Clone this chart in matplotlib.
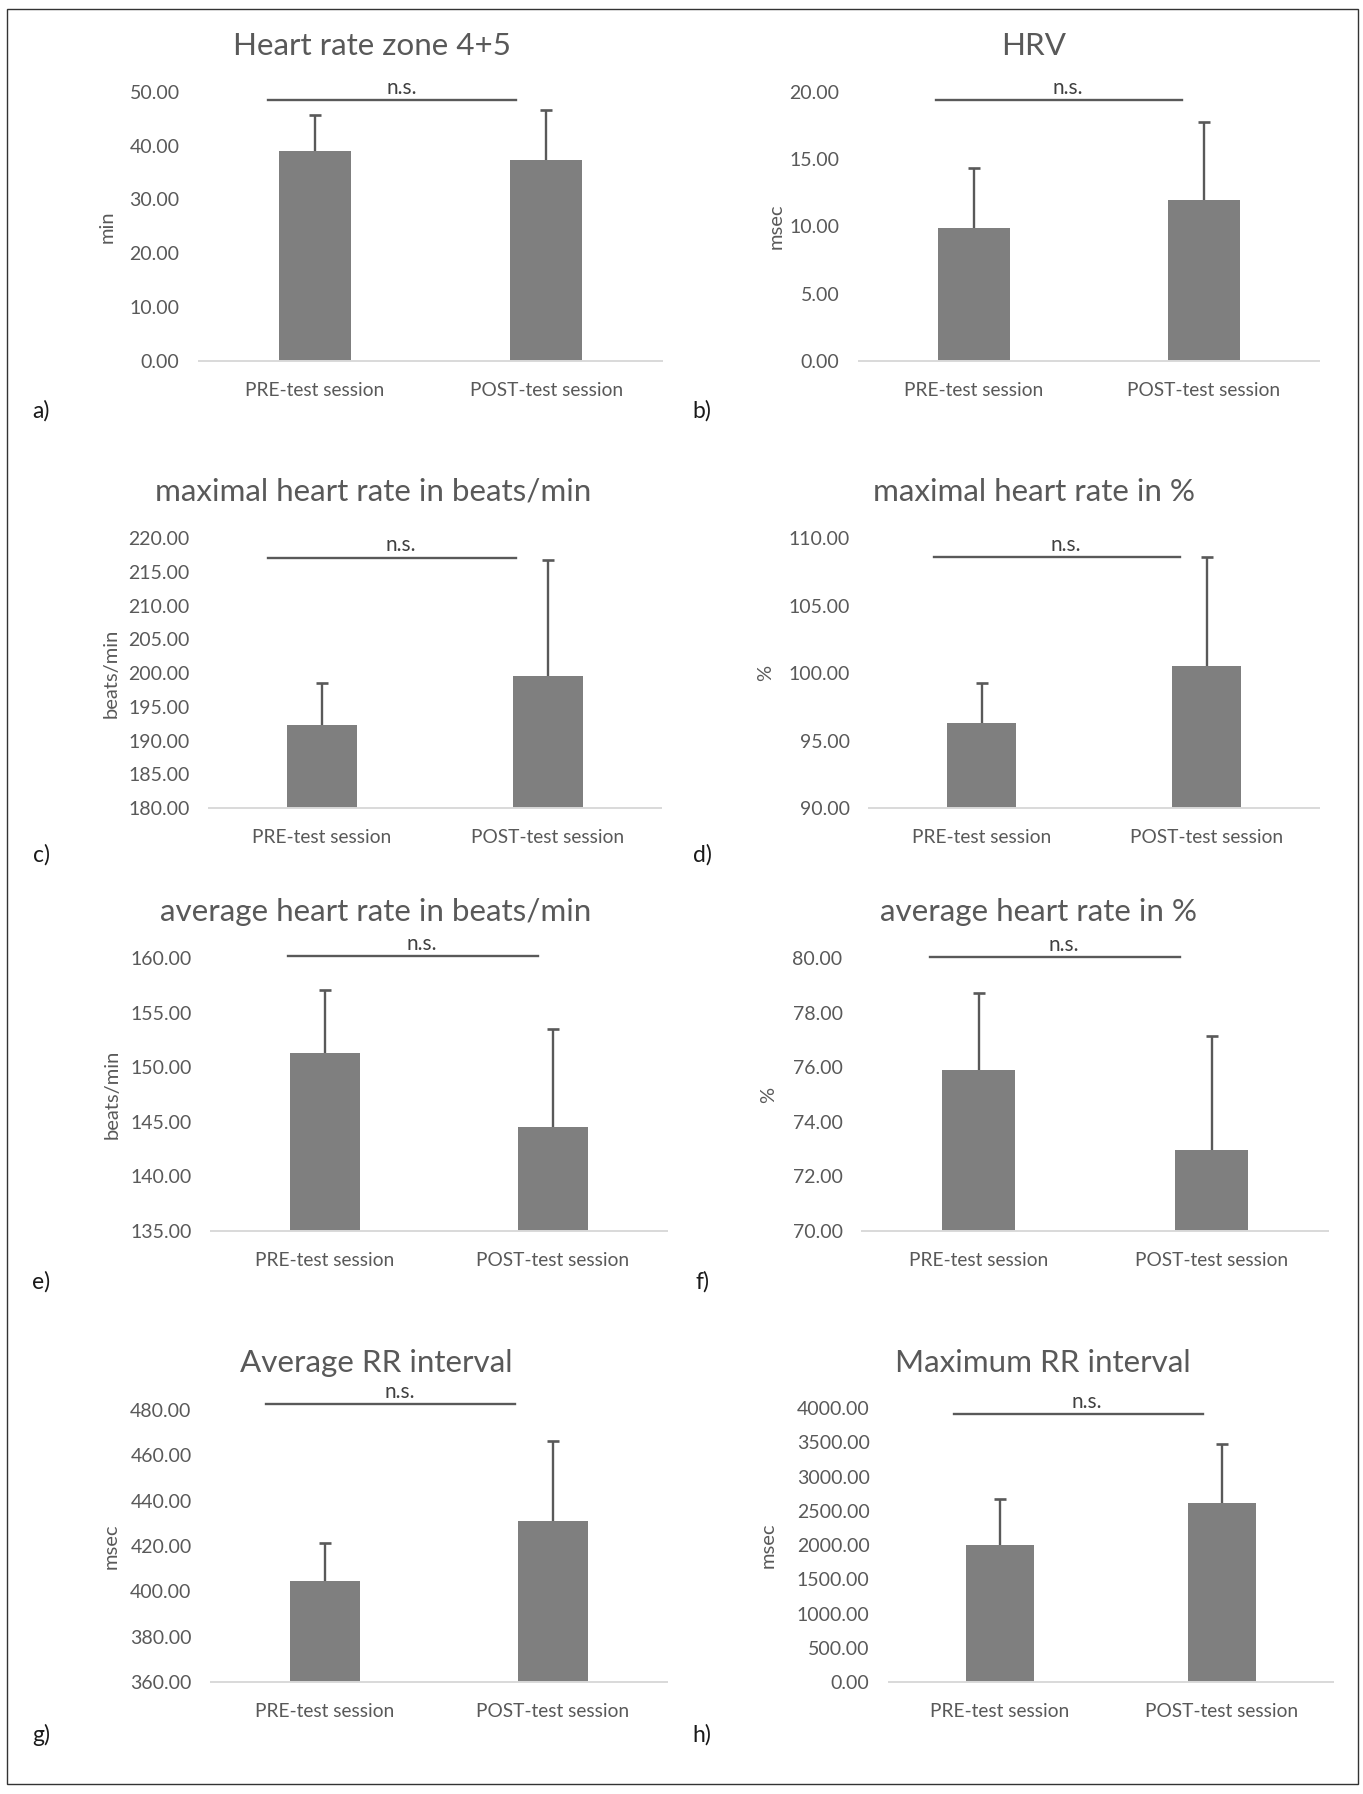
import matplotlib
matplotlib.use("Agg")
import matplotlib.pyplot as plt
from matplotlib.ticker import FormatStrFormatter

plt.rcParams['font.family'] = ['Lato', 'DejaVu Sans']

# ---------------- data ----------------
categories = ["PRE-test session", "POST-test session"]

titles = ["Heart rate zone 4+5", "HRV",
          "maximal heart rate in beats/min", "maximal heart rate in %",
          "average heart rate in beats/min", "average heart rate in %",
          "Average RR interval", "Maximum RR interval"]
ylabels = ["min", "msec", "beats/min", "%", "beats/min", "%", "msec", "msec"]
letters = ["a)", "b)", "c)", "d)", "e)", "f)", "g)", "h)"]

hr_zone_mean = [39.0, 37.3]
hr_zone_sd = [6.7, 9.3]
hrv_mean = [9.85, 11.93]
hrv_sd = [4.5, 5.85]
max_hr_bpm_mean = [192.3, 199.55]
max_hr_bpm_sd = [6.2, 17.25]
max_hr_pct_mean = [96.3, 100.52]
max_hr_pct_sd = [2.95, 8.05]
avg_hr_bpm_mean = [151.3, 144.5]
avg_hr_bpm_sd = [5.75, 9.0]
avg_hr_pct_mean = [75.89, 72.97]
avg_hr_pct_sd = [2.83, 4.18]
avg_rr_mean = [404.4, 431.2]
avg_rr_sd = [17.1, 35.3]
max_rr_mean = [2007, 2608]
max_rr_sd = [660, 860]

means = [hr_zone_mean, hrv_mean, max_hr_bpm_mean, max_hr_pct_mean,
         avg_hr_bpm_mean, avg_hr_pct_mean, avg_rr_mean, max_rr_mean]
sds = [hr_zone_sd, hrv_sd, max_hr_bpm_sd, max_hr_pct_sd,
       avg_hr_bpm_sd, avg_hr_pct_sd, avg_rr_sd, max_rr_sd]

# axis ranges and tick steps
y_min = [0, 0, 180, 90, 135, 70, 360, 0]
y_max = [50, 20, 220, 110, 160, 80, 480, 4000]
y_step = [10, 5, 5, 5, 5, 2, 20, 500]

# n.s. bracket heights (data units)
ns_level = [48.5, 19.4, 217.1, 108.6, 160.15, 80.04, 482.5, 3912]

# ---------------- layout (pixels) ----------------
W, H = 1363, 1794
fig = plt.figure(figsize=(W / 100, H / 100), dpi=100)

# (left, right, top, bottom) of each plot area in pixels
boxes = [(199, 662, 91.7, 361), (859, 1319, 91.7, 361),
         (209, 661, 538, 808), (869, 1319, 538, 808),
         (211, 667, 958, 1231), (862, 1328, 958, 1231),
         (211, 667, 1410, 1682), (889, 1333, 1408, 1682)]
title_xy = [(372, 55), (1034, 55), (373, 501), (1034, 501),
            (376, 921), (1038, 921), (376, 1372), (1043, 1372)]
ylab_off = [83, 74, 89, 95, 90, 85, 91, 112]
ns_x = [(0.149, 0.685), (0.167, 0.702), (0.131, 0.679), (0.144, 0.691),
        (0.169, 0.717), (0.146, 0.682), (0.121, 0.667), (0.146, 0.707)]
letter_xy = [(41, 411), (702, 411), (41, 855), (702, 855),
             (41, 1282), (702, 1282), (41, 1735), (702, 1735)]

bar_col = "#7f7f7f"
txt_col = "#595959"
err_col = "#595959"
axis_col = "#d9d9d9"

for i in range(8):
    l, r, t, b = boxes[i]
    ax = fig.add_axes([l / W, 1 - b / H, (r - l) / W, (b - t) / H])
    x = [0, 1]
    ax.bar(x, [m - y_min[i] for m in means[i]], bottom=y_min[i], width=0.31,
           color=bar_col, zorder=2)
    tops = [m + s for m, s in zip(means[i], sds[i])]
    ax.vlines(x, means[i], tops, colors=err_col, lw=1.7, zorder=3)
    ax.plot(x, tops, linestyle='none', marker='_', markersize=9,
            markeredgewidth=1.9, color=err_col, zorder=3)
    ax.set_xlim(-0.5, 1.5)
    ax.set_ylim(y_min[i], y_max[i])
    ticks = []
    v = y_min[i]
    while v <= y_max[i] + 1e-9:
        ticks.append(v)
        v += y_step[i]
    ax.set_yticks(ticks)
    ax.yaxis.set_major_formatter(FormatStrFormatter('%.2f'))
    ax.set_xticks(x)
    ax.set_xticklabels(categories)
    for s in ['top', 'right', 'left']:
        ax.spines[s].set_visible(False)
    ax.spines['bottom'].set_color(axis_col)
    ax.spines['bottom'].set_linewidth(1.4)
    ax.tick_params(axis='y', length=0, pad=14, labelsize=14, labelcolor=txt_col)
    ax.tick_params(axis='x', length=0, pad=15, labelsize=13.8, labelcolor=txt_col)
    ax.set_ylabel(ylabels[i], fontsize=14.5, color=txt_col)
    ax.yaxis.set_label_coords(-ylab_off[i] / (r - l), 0.5)
    ax.patch.set_visible(False)

    # n.s. bracket
    x0 = -0.5 + 2 * ns_x[i][0]
    x1 = -0.5 + 2 * ns_x[i][1]
    ax.plot([x0, x1], [ns_level[i], ns_level[i]], color=err_col, lw=1.7,
            clip_on=False, zorder=4)
    ax.annotate("n.s.", xy=((x0 + x1) / 2 + 0.04, ns_level[i]), xytext=(0, 1.5),
                textcoords='offset points', ha='center', va='bottom',
                fontsize=15, color="#404040", annotation_clip=False)

    tx, ty = title_xy[i]
    fig.text(tx / W, 1 - ty / H, titles[i], ha='center', va='baseline',
             fontsize=22.6, color=txt_col)
    lx, ly = letter_xy[i]
    fig.text(lx / W, 1 - ly / H, letters[i], ha='center', va='center',
             fontsize=16.5, color="#1a1a1a")

# outer frame
frame = plt.Rectangle((7 / W, 1 - 1784 / H), (1358 - 7) / W, (1784 - 9) / H,
                      transform=fig.transFigure, fill=False, edgecolor="#333333",
                      lw=1.0)
fig.patches.append(frame)

fig.savefig("out.png", dpi=100)
